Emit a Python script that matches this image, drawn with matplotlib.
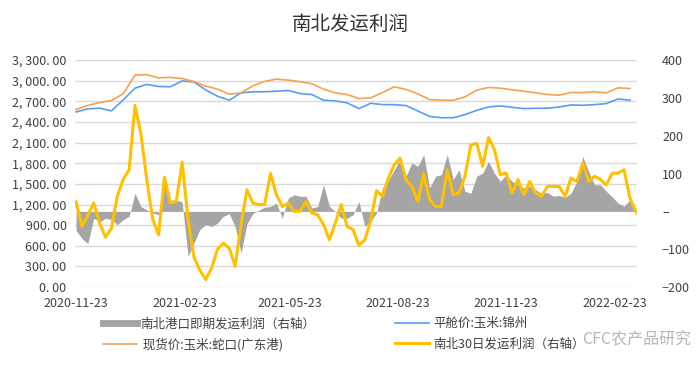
import pandas as pd
import matplotlib
matplotlib.use("Agg")
import matplotlib.pyplot as plt
import matplotlib.dates as mdates
from matplotlib.lines import Line2D

plt.rcParams['font.family'] = ['Noto Sans CJK SC', 'DejaVu Sans']
plt.rcParams['axes.unicode_minus'] = False

# 利润序列: 每5天一个点, 右轴
profit_dates = pd.date_range("2020-11-23", periods=96, freq="5D")
spot_profit = [
    -50, -72, -85, -18, -28, -18, -22, -35, -22, -13,
    48, 13, 4, -4, -9, 90, 30, 30, 25, -119,
    -84, -48, -35, -40, -31, -13, -6, -40, -110, -33,
    -6, 3, 11, 13, 22, -18, 35, 44, 40, 40,
    9, 13, 70, 13, 0, -18, -18, -9, 26, -40,
    -26, -4, 62, 82, 110, 137, 93, 128, 119, 150,
    62, 93, 97, 150, 84, 110, 53, 48, 93, 101,
    132, 101, 79, 97, 79, 70, 62, 66, 57, 48,
    50, 40, 42, 37, 48, 79, 145, 105, 70, 70,
    53, 38, 22, 13, 31, -11,
]
profit_30d = [
    25, -40, -10, 22, -31, -68, -45, 40, 84, 110,
    280, 205, 84, -20, -62, 90, 22, 26, 130, -20,
    -120, -155, -180, -150, -100, -84, -97, -145, -35, 57,
    22, 18, 18, 100, 44, 13, 22, 0, 0, 26,
    -4, -9, -35, -75, -31, 18, -40, -48, -90, -75,
    -25, 55, 40, 88, 123, 141, 84, 66, 26, 100,
    31, 13, 13, 110, 45, 48, 93, 175, 180, 119,
    195, 163, 97, 101, 48, 84, 44, 79, 48, 40,
    66, 66, 66, 40, 88, 79, 128, 79, 93, 84,
    70, 101, 101, 110, 35, 0,
]

# 价格序列: 每10天一个点, 左轴
price_dates = pd.date_range("2020-11-23", periods=48, freq="10D")
jinzhou = [
    2544, 2590, 2600, 2560, 2720, 2890, 2945, 2915, 2910, 2995,
    2980, 2865, 2773, 2715, 2822, 2837, 2837, 2846, 2856, 2812,
    2798, 2715, 2705, 2676, 2593, 2671, 2651, 2651, 2637, 2559,
    2480, 2461, 2461, 2505, 2568, 2617, 2632, 2612, 2593, 2598,
    2598, 2617, 2646, 2641, 2651, 2666, 2734, 2715,
]
shekou = [
    2580, 2640, 2680, 2710, 2810, 3080, 3085, 3040, 3046, 3030,
    2985, 2920, 2876, 2802, 2822, 2924, 2988, 3022, 3007, 2983,
    2954, 2876, 2822, 2798, 2739, 2749, 2827, 2910, 2871, 2807,
    2724, 2715, 2715, 2763, 2861, 2900, 2890, 2866, 2846, 2822,
    2798, 2788, 2827, 2827, 2837, 2822, 2895, 2885,
]

left_ticks = list(range(0, 3301, 300))
right_ticks = [-200, -100, 0, 100, 200, 300, 400]
right_labels = ["−200", "−100", "–", "100", "200", "300", "400"]
date_ticks = ["2020-11-23", "2021-02-23", "2021-05-23", "2021-08-23", "2021-11-23", "2022-02-23"]

txt = "#404040"
fig = plt.figure(figsize=(7, 3.7), dpi=100)
ax = fig.add_axes([0.107, 0.224, 0.803, 0.614])
ax2 = ax.twinx()

ax.plot(price_dates, jinzhou, color="#5b9bf5", lw=1.2)
ax.plot(price_dates, shekou, color="#f9a04f", lw=1.2)
ax2.fill_between(profit_dates, spot_profit, 0, color="#a5a5a5", lw=0)
ax2.plot(profit_dates, profit_30d, color="#ffc000", lw=2.2)

ax.set_ylim(0, 3300)
ax.set_yticks(left_ticks)
ax.set_yticklabels([f"{v:,.2f}".replace(",", ", ").replace(".", ". ") for v in left_ticks])
ax2.set_ylim(-200, 400)
ax2.set_yticks(right_ticks)
ax2.set_yticklabels(right_labels)

ax.set_xlim(pd.Timestamp("2020-11-22"), pd.Timestamp("2022-03-14"))
ax.set_xticks([pd.Timestamp(d) for d in date_ticks])
ax.xaxis.set_major_formatter(mdates.DateFormatter("%Y-%m-%d"))

ax.grid(axis="y", color="#d9d9d9", lw=1)
ax.set_axisbelow(True)
for a in (ax, ax2):
    for s in a.spines.values():
        s.set_visible(False)
    a.tick_params(length=0, labelsize=9, colors=txt)
ax.tick_params(axis="y", pad=6)
ax.tick_params(axis="x", pad=7)
ax2.tick_params(axis="y", pad=18)

fig.text(0.5, 0.935, "南北发运利润", ha="center", va="center", fontsize=14, color="#333333")

handles = [
    Line2D([0], [0], color="#a5a5a5", lw=5),
    Line2D([0], [0], color="#f9a04f", lw=1.2),
    Line2D([0], [0], color="#5b9bf5", lw=1.2),
    Line2D([0], [0], color="#ffc000", lw=2.2),
]
labels = ["南北港口即期发运利润（右轴）", " 现货价:玉米:蛇口(广东港)", "平舱价:玉米:锦州", "南北30日发运利润（右轴）"]
fig.legend(handles, labels, loc="upper left", bbox_to_anchor=(0.147, 0.143), ncol=2, frameon=False,
           borderpad=0, borderaxespad=0, fontsize=9, handlelength=2.7, handletextpad=0.3,
           columnspacing=6.4, labelspacing=0.62, labelcolor=txt)

# 水印
fig.text(0.832, 0.082, "CFC农产品研究", fontsize=11.5, color="#a8a8a8", alpha=0.85, ha="left", va="center")

fig.savefig("out.png", dpi=100)
